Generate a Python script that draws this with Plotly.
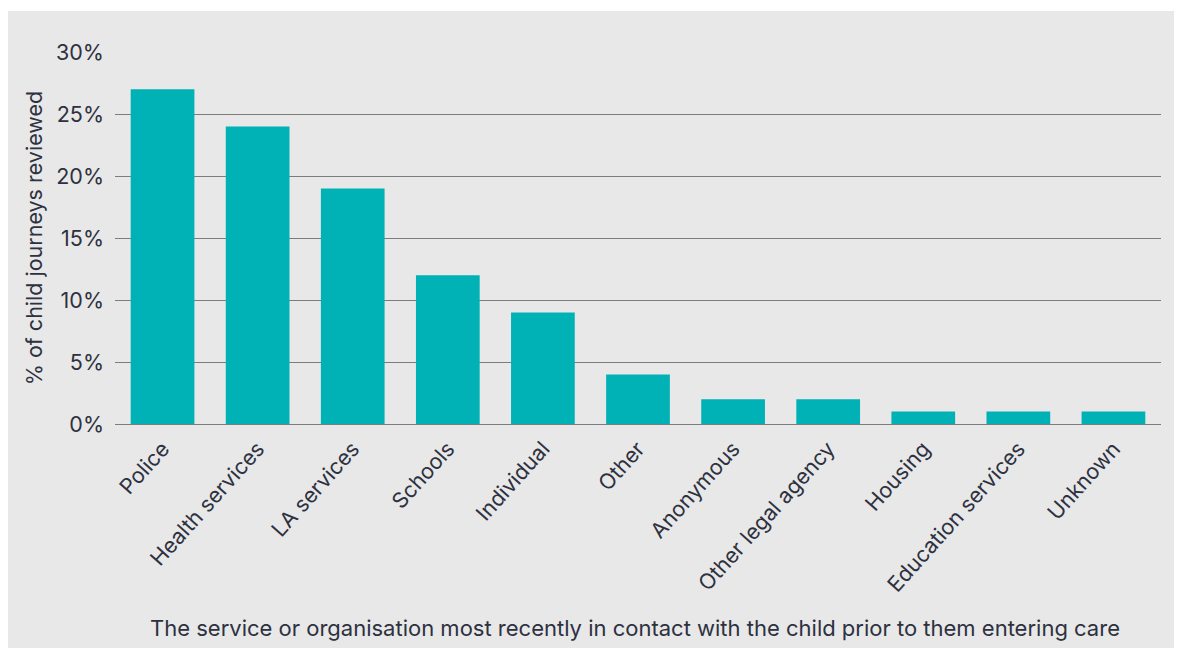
import plotly.graph_objects as go

categories = ["Police", "Health services", "LA services", "Schools", "Individual", "Other",
              "Anonymous", "Other legal agency", "Housing", "Education services", "Unknown"]
values = [27, 24, 19, 12, 9, 4, 2, 2, 1, 1, 1]
y_ticks = [0, 5, 10, 15, 20, 25, 30]
y_tick_labels = ["0%", "5%", "10%", "15%", "20%", "25%", "30%"]

# page body has an 8px margin, so figure coords = screen coords - 8
OFF = 8
W, H = 1174, 640
L, T = 115 - OFF, 52 - OFF
R = W - (1161 - OFF)
B = H - (424 - OFF)
pw, ph = W - L - R, H - T - B

FONT = "Inter"
TXT = "#2d3140"
BG = "#e8e8e8"

fig = go.Figure(go.Bar(x=categories, y=values, marker=dict(color="#00b1b6", line=dict(width=0)),
                       hoverinfo="x+y"))

fig.update_layout(
    width=W, height=H,
    margin=dict(l=L, r=R, t=T, b=B, autoexpand=False),
    paper_bgcolor="white", plot_bgcolor=BG,
    bargap=0.33, showlegend=False,
    font=dict(family=FONT, color=TXT, size=20),
    xaxis=dict(tickangle=-48, tickfont=dict(size=21.5, color=TXT), showgrid=False,
               showline=False, ticks="", automargin=False, ticklabelstandoff=7),
    yaxis=dict(range=[0, 30], tickvals=y_ticks, ticktext=y_tick_labels,
               tickfont=dict(size=21.5, color=TXT), showgrid=True, gridcolor="#7d7d7d",
               gridwidth=1, zeroline=True, zerolinecolor="#7d7d7d", zerolinewidth=1,
               ticks="", ticklabelstandoff=10, automargin=False,
               title=dict(text="% of child journeys reviewed", font=dict(size=21.5, color=TXT),
                          standoff=7)),
    shapes=[dict(type="rect", xref="paper", yref="paper", layer="below",
                 x0=-L / pw, x1=(W - L) / pw, y0=-B / ph, y1=(H - B - 3) / ph,
                 fillcolor=BG, line=dict(width=0))],
    annotations=[dict(text="The service or organisation most recently in contact with the child prior to them entering care",
                      xref="paper", yref="paper", x=(635 - OFF - L) / pw,
                      y=-((628 - OFF) - (T + ph)) / ph,
                      xanchor="center", yanchor="middle", showarrow=False,
                      font=dict(size=22, color=TXT))],
)

fig.write_html("out.html")
